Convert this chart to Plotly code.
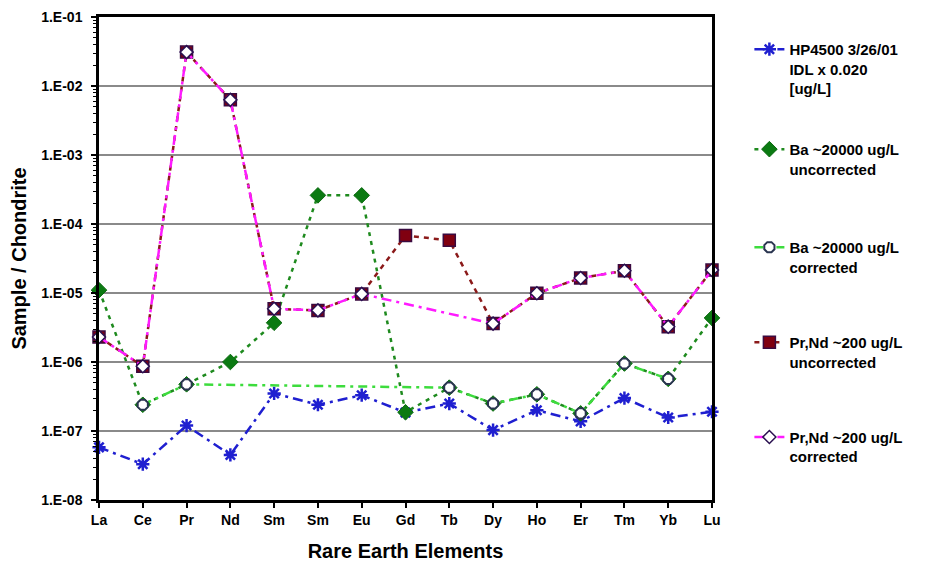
import plotly.graph_objects as go

elements = ["La", "Ce", "Pr", "Nd", "Sm", "Sm", "Eu", "Gd", "Tb", "Dy", "Ho", "Er", "Tm", "Yb", "Lu"]

hp4500 = [5.8e-8, 3.3e-8, 1.2e-7, 4.5e-8, 3.5e-7, 2.4e-7, 3.3e-7, 1.85e-7, 2.5e-7, 1.03e-7,
          2.0e-7, 1.38e-7, 3.0e-7, 1.57e-7, 1.9e-7]
ba_uncorrected = [1.1e-5, 2.4e-7, 4.75e-7, 1.0e-6, 3.7e-6, 2.6e-4, 2.6e-4, 1.87e-7, 4.25e-7, 2.5e-7,
                  3.4e-7, 1.8e-7, 9.5e-7, 5.7e-7, 4.35e-6]
ba_corrected = [None, 2.4e-7, 4.75e-7, None, None, None, None, None, 4.25e-7, 2.5e-7,
                3.4e-7, 1.8e-7, 9.5e-7, 5.7e-7, None]
prnd_uncorrected = [2.3e-6, 8.7e-7, 3.1e-2, 6.3e-3, 5.9e-6, 5.6e-6, 9.7e-6, 6.8e-5, 5.8e-5, 3.6e-6,
                    9.9e-6, 1.65e-5, 2.1e-5, 3.25e-6, 2.15e-5]
prnd_corrected = [2.3e-6, 8.7e-7, 3.1e-2, 6.3e-3, 5.9e-6, 5.6e-6, 9.7e-6, None, None, 3.6e-6,
                  9.9e-6, 1.65e-5, 2.1e-5, 3.25e-6, 2.15e-5]

y_tick_vals = [1e-8, 1e-7, 1e-6, 1e-5, 1e-4, 1e-3, 1e-2, 1e-1]
y_tick_text = ["1.E-08", "1.E-07", "1.E-06", "1.E-05", "1.E-04", "1.E-03", "1.E-02", "1.E-01"]

names = [
    "HP4500 3/26/01<br>IDL x 0.020<br>[ug/L]",
    "Ba ~20000 ug/L<br>uncorrected",
    "Ba ~20000 ug/L<br>corrected",
    "Pr,Nd ~200 ug/L<br>uncorrected",
    "Pr,Nd ~200 ug/L<br>corrected",
]

x = list(range(len(elements)))
FONT = "Liberation Sans, Arial, sans-serif"

fig = go.Figure()

fig.add_trace(go.Scatter(
    x=x, y=hp4500, name=names[0], mode="lines+markers", legend="legend",
    line=dict(color="#1f1fd0", width=2.5, dash="10px,5px,3px,5px"),
    marker=dict(symbol="asterisk-open", size=11, line=dict(color="#6ea4ec", width=2.5)),
    cliponaxis=False))

fig.add_trace(go.Scatter(
    x=x, y=ba_uncorrected, name=names[1], mode="lines+markers", legend="legend2",
    line=dict(color="#1e8a1e", width=2.5, dash="4px,5px"),
    marker=dict(symbol="diamond", size=12, color="#0b7a12", line=dict(color="#0b6a10", width=1)),
    cliponaxis=False))

fig.add_trace(go.Scatter(
    x=x, y=ba_corrected, name=names[2], mode="lines+markers", legend="legend3", connectgaps=True,
    line=dict(color="#3ddc3d", width=2.5, dash="9px,5px,3px,5px"),
    marker=dict(symbol="octagon", size=11, color="white", line=dict(color="#2a3550", width=2)),
    cliponaxis=False))

fig.add_trace(go.Scatter(
    x=x, y=prnd_uncorrected, name=names[3], mode="lines+markers", legend="legend4",
    line=dict(color="#8b1a1a", width=2.5, dash="5px,5px"),
    marker=dict(symbol="square", size=12, color="#800010", line=dict(color="#3a0a40", width=1.5)),
    cliponaxis=False))

fig.add_trace(go.Scatter(
    x=x, y=prnd_corrected, name=names[4], mode="lines+markers", legend="legend5", connectgaps=True,
    line=dict(color="#ff1aff", width=2.5, dash="10px,5px,3px,5px"),
    marker=dict(symbol="diamond", size=10, color="white", line=dict(color="#2a1050", width=1.5)),
    cliponaxis=False))

legend_tops = [0.967, 0.760, 0.557, 0.360, 0.164]
legend_common = dict(x=1.061, xanchor="left", yanchor="top", valign="top",
                     bgcolor="rgba(0,0,0,0)",
                     font=dict(family=FONT, size=15, color="black", weight="bold"))
layout_legends = {}
for i, top in enumerate(legend_tops):
    key = "legend" if i == 0 else f"legend{i + 1}"
    layout_legends[key] = dict(legend_common, y=top)

minor_vals = [k * 10.0 ** e for e in range(-8, -1) for k in range(2, 10)]

fig.update_layout(
    width=917, height=556,
    margin=dict(l=91, r=213, t=9, b=64, autoexpand=False),
    paper_bgcolor="white", plot_bgcolor="white",
    showlegend=True,
    font=dict(family=FONT, color="black"),
    xaxis=dict(
        range=[0, 14], tickmode="array", tickvals=x, ticktext=elements,
        showgrid=False, zeroline=False, automargin=False,
        showline=True, linecolor="black", linewidth=2.5, mirror=True,
        ticks="outside", ticklen=5, tickwidth=1.5, tickcolor="black",
        tickfont=dict(family=FONT, size=14, color="black", weight="bold"),
        title=dict(text="Rare Earth Elements", standoff=18,
                   font=dict(family=FONT, size=20, color="black", weight="bold")),
    ),
    yaxis=dict(
        type="log", range=[-8, -1], tickmode="array", tickvals=y_tick_vals, ticktext=y_tick_text,
        showgrid=True, gridcolor="#8a8a8a", gridwidth=2, zeroline=False, automargin=False,
        showline=True, linecolor="black", linewidth=2.5, mirror=True,
        ticks="outside", ticklen=5, tickwidth=1.5, tickcolor="black",
        ticklabelstandoff=6, ticklabeloverflow="allow",
        minor=dict(tickmode="array", tickvals=minor_vals, ticks="outside", ticklen=3,
                   tickwidth=1, tickcolor="black", showgrid=False),
        tickfont=dict(family=FONT, size=14, color="black", weight="bold"),
        title=dict(text="Sample / Chondrite", standoff=14,
                   font=dict(family=FONT, size=20, color="black", weight="bold")),
    ),
    **layout_legends,
)

fig.write_html("out.html")
